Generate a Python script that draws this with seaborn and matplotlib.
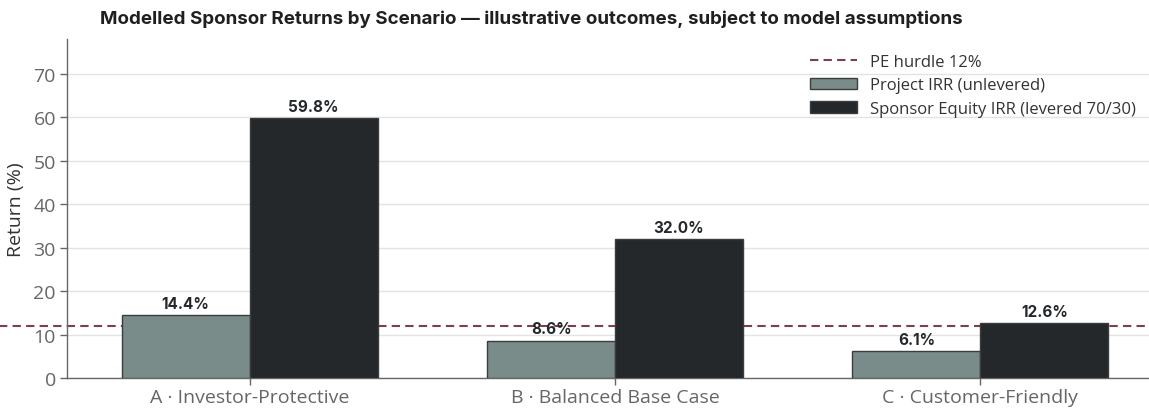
import matplotlib
matplotlib.use("Agg")
import matplotlib.pyplot as plt
import seaborn as sns
import pandas as pd

scenarios = ["A · Investor-Protective", "B · Balanced Base Case", "C · Customer-Friendly"]
series = ["Project IRR (unlevered)", "Sponsor Equity IRR (levered 70/30)"]
project_irr = [14.4, 8.6, 6.1]
sponsor_irr = [59.8, 32.0, 12.6]
hurdle = 12.0
hurdle_label = "PE hurdle 12%"
title = "Modelled Sponsor Returns by Scenario — illustrative outcomes, subject to model assumptions"

df = pd.DataFrame({
    "Scenario": scenarios * 2,
    "Series": [series[0]] * 3 + [series[1]] * 3,
    "Return": project_irr + sponsor_irr,
})

sns.set_theme(style="white")
plt.rcParams["font.family"] = ["Open Sans", "DejaVu Sans"]
bold_family = ["Inter", "DejaVu Sans"]

fig = plt.figure(figsize=(11.49, 4.10), dpi=100)
ax = fig.add_axes([67 / 1149, 1 - 379 / 410, (1163 - 67) / 1149, (379 - 40) / 410])

palette = {series[0]: "#7a8c89", series[1]: "#25282b"}
sns.barplot(data=df, x="Scenario", y="Return", hue="Series", palette=palette,
            width=0.7, edgecolor="#3a3d40", linewidth=1.0, saturation=1,
            ax=ax, zorder=3)

ax.axhline(hurdle, color="#7b3f4f", linestyle=(0, (4, 2.5)), linewidth=1.5,
           xmin=-0.07, xmax=1.0, clip_on=False, zorder=2, label=hurdle_label)

for cont in ax.containers:
    ax.bar_label(cont, labels=[f"{v:.1f}%" for v in cont.datavalues], padding=3,
                 fontsize=11, fontweight="bold", color="#25282b", family=bold_family)

ax.set_xlim(-0.5, 2.5)
ax.set_ylim(0, 78)
ax.set_yticks([0, 10, 20, 30, 40, 50, 60, 70])
ax.yaxis.grid(True, color="#e3e3e3", linewidth=1, zorder=0)
ax.set_axisbelow(True)
ax.set_xlabel("")
ax.set_ylabel("Return (%)", fontsize=14, color="#333333", labelpad=6)
ax.tick_params(axis="both", labelsize=14, colors="#666666", length=5, width=1, direction="out")
ax.tick_params(axis="x", pad=2)
ax.tick_params(axis="y", left=True, pad=3)
ax.tick_params(axis="x", bottom=True)
for s in ["top", "right"]:
    ax.spines[s].set_visible(False)
for s in ["left", "bottom"]:
    ax.spines[s].set_color("#666666")
    ax.spines[s].set_linewidth(1.0)

handles, labels = ax.get_legend_handles_labels()
order = [labels.index(hurdle_label)] + [labels.index(s) for s in series]
ax.legend([handles[i] for i in order], [labels[i] for i in order],
          loc="upper right", bbox_to_anchor=(1143 / 1149, 1 - 48 / 410),
          bbox_transform=fig.transFigure, frameon=False, fontsize=12,
          handlelength=2.8, handleheight=0.7, labelspacing=0.45, borderaxespad=0,
          handletextpad=0.8, labelcolor="#333333")

fig.text(100 / 1149, 1 - 19 / 410, title, fontsize=13.5, fontweight="bold",
         color="#1f1f1f", va="center", ha="left", family=bold_family)

fig.savefig("out.png", dpi=100)
